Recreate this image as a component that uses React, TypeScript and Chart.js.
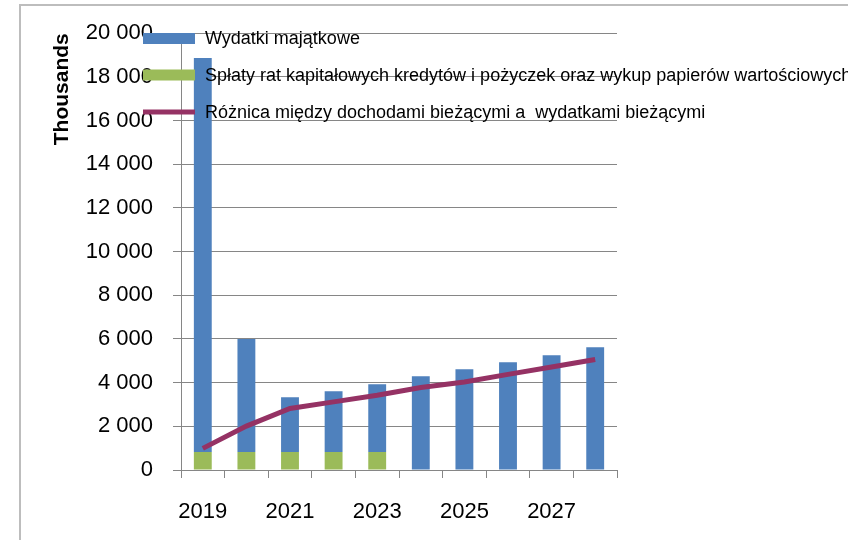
import React, { useEffect, useRef } from 'react';
import { Chart, registerables } from 'chart.js';

Chart.register(...registerables);

const years = ['2019', '2020', '2021', '2022', '2023', '2024', '2025', '2026', '2027', '2028'];
const wydatkiMajatkowe = [18040, 5180, 2510, 2790, 3110, 4290, 4610, 4930, 5250, 5620];
const splatyRat = [820, 820, 820, 820, 820, null, null, null, null, null];
const roznica = [990, 2010, 2820, 3120, 3420, 3780, 4030, 4380, 4720, 5060];
const seriesNames = [
  'Wydatki majątkowe',
  'Spłaty rat kapitałowych kredytów i pożyczek oraz wykup papierów wartościowych',
  'Różnica między dochodami bieżącymi a  wydatkami bieżącymi',
];
const yMin = 0;
const yMax = 20000;
const yStep = 2000;
const axisTitle = 'Thousands';

const FONT = '"Liberation Sans", Arial, sans-serif';
const GRID = '#868686';
const BLUE = '#4F81BD';
const GREEN = '#9BBB59';
const PURPLE = '#953264';

const fmt = (v: number) => String(Math.round(v)).replace(/\B(?=(\d{3})+(?!\d))/g, ' ');

const framePlugin = {
  id: 'frame',
  beforeDraw(chart: any) {
    const ctx = chart.ctx;
    ctx.save();
    ctx.fillStyle = '#ffffff';
    ctx.fillRect(0, 0, chart.width, chart.height);
    ctx.strokeStyle = '#BDBDBD';
    ctx.lineWidth = 2;
    ctx.strokeRect(20, 5, chart.width + 50, chart.height + 50);
    ctx.restore();
  },
};

const legendPlugin = {
  id: 'customLegend',
  afterDraw(chart: any) {
    const ctx = chart.ctx;
    const ds = chart.data.datasets;
    // legend order: Wydatki (ds 1), Spłaty (ds 0), Różnica (ds 2)
    const items = [
      { d: ds[1], kind: 'box', y: 38.5 },
      { d: ds[0], kind: 'box', y: 75 },
      { d: ds[2], kind: 'line', y: 112 },
    ];
    ctx.save();
    ctx.font = `18px ${FONT}`;
    ctx.textBaseline = 'middle';
    ctx.textAlign = 'left';
    for (const it of items) {
      if (it.kind === 'box') {
        ctx.fillStyle = it.d.backgroundColor;
        ctx.fillRect(143, it.y - 5.5, 52, 11);
      } else {
        ctx.fillStyle = it.d.borderColor;
        ctx.fillRect(143, it.y - 2.5, 52, 5);
      }
      ctx.fillStyle = '#000';
      ctx.fillText(it.d.label, 205, it.y + 1);
    }
    ctx.restore();
  },
};

export default function App() {
  const ref = useRef<HTMLCanvasElement | null>(null);

  useEffect(() => {
    if (!ref.current) return;
    const chart = new Chart(ref.current, {
      type: 'bar',
      data: {
        labels: years,
        datasets: [
          {
            type: 'bar',
            label: seriesNames[1],
            data: splatyRat,
            backgroundColor: GREEN,
            borderWidth: 0,
            barPercentage: 0.41,
            categoryPercentage: 1,
            order: 2,
            stack: 'bars',
          },
          {
            type: 'bar',
            label: seriesNames[0],
            data: wydatkiMajatkowe,
            backgroundColor: BLUE,
            borderWidth: 0,
            barPercentage: 0.41,
            categoryPercentage: 1,
            order: 2,
            stack: 'bars',
          },
          {
            type: 'line',
            label: seriesNames[2],
            data: roznica,
            borderColor: PURPLE,
            backgroundColor: PURPLE,
            borderWidth: 5,
            pointRadius: 0,
            tension: 0,
            order: 1,
            stack: 'line',
          } as any,
        ],
      },
      options: {
        responsive: false,
        animation: false,
        layout: { padding: { left: 50, right: 231, top: 32, bottom: 0 } },
        plugins: {
          legend: { display: false },
          tooltip: { enabled: false },
        },
        scales: {
          x: {
            stacked: true,
            offset: true,
            grid: {
              display: true,
              drawOnChartArea: false,
              drawTicks: true,
              tickLength: 8,
              color: GRID,
              offset: true,
            },
            border: { display: true, color: GRID, width: 1 },
            ticks: {
              autoSkip: false,
              maxRotation: 0,
              padding: 21,
              color: '#000',
              font: { family: FONT, size: 22 },
              callback: (_v: any, i: number) => (i % 2 === 0 ? years[i] : ''),
            },
            afterFit: (s: any) => {
              s.height = 70;
            },
          },
          y: {
            stacked: true,
            min: yMin,
            max: yMax,
            grid: { color: GRID, tickLength: 8, drawTicks: true },
            border: { display: true, color: GRID, width: 1 },
            ticks: {
              stepSize: yStep,
              padding: 20,
              color: '#000',
              font: { family: FONT, size: 22 },
              callback: (v: any) => fmt(Number(v)),
            },
            title: {
              display: true,
              text: axisTitle,
              align: 'end',
              color: '#000',
              padding: 0,
              font: { family: FONT, size: 21, weight: 'bold' },
            },
            afterFit: (s: any) => {
              s.width = 131;
            },
          },
        },
      } as any,
      plugins: [framePlugin, legendPlugin],
    });
    return () => chart.destroy();
  }, []);

  return (
    <div style={{ position: 'fixed', left: 0, top: 0, width: 848, height: 540, background: '#fff' }}>
      <canvas ref={ref} width={848} height={540} style={{ display: 'block', width: 848, height: 540 }} />
    </div>
  );
}
